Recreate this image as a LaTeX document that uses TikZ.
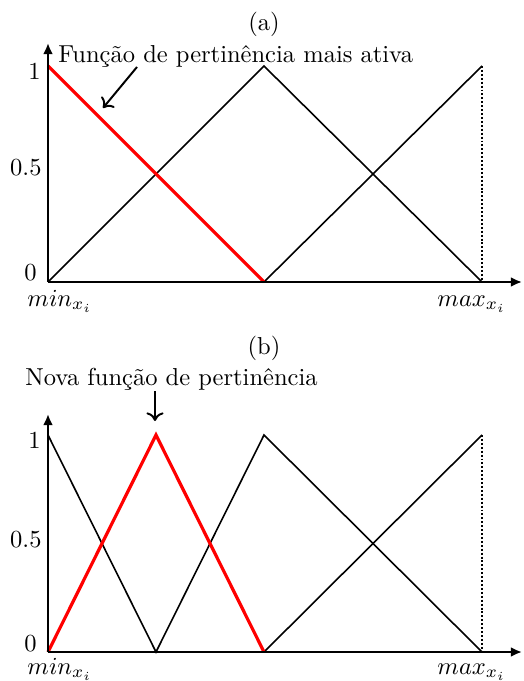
\documentclass[tikz,border=0pt]{standalone}
\usepackage{tikz}
\usetikzlibrary{arrows.meta}

\begin{document}
\begin{tikzpicture}[x=0.408pt, y=-0.408pt, >=Latex,
  axis/.style={line width=1.2pt, -{Latex[length=4.5pt, width=4pt]}},
  mf/.style={line width=0.65pt},
  active/.style={red, line width=1.3pt},
  limit/.style={line width=1pt, dash pattern=on 0.8pt off 0.8pt},
  pointer/.style={line width=0.8pt, -{To[length=3.5pt, width=7pt]}},
  tick/.style={inner sep=0pt}]
  \useasboundingbox (0,0) rectangle (523,681);

  % (a) most active membership function
  \node (capa) at (264,24) {(a)};
  \coordinate (oa) at (48,282);
  \coordinate (ya) at (48,43);
  \coordinate (xa) at (522,282);
  \coordinate (a1) at (48,66);
  \coordinate (a2) at (264,66);
  \coordinate (a3) at (264,282);
  \coordinate (a4) at (482,66);
  \coordinate (a5) at (482,282);
  \node[tick, anchor=north east] (onea) at (41,63) {1};
  \node[tick, anchor=east] (halfa) at (42,168) {0.5};
  \node[tick, anchor=base east] (zeroa) at (37,281) {0};
  \node[tick, anchor=base west] (mina) at (27,306) {$min_{x_i}$};
  \node[tick, anchor=base west] (maxa) at (437,306) {$max_{x_i}$};
  \node[tick, anchor=base west] (labela) at (58,63) {Função de pertinência mais ativa};
  \coordinate (pa1) at (137,67);
  \coordinate (pa2) at (103,108);

  \draw[mf] (oa) -- (a2) -- (a5);
  \draw[mf] (a3) -- (a4);
  \draw[limit] (a4) -- (a5);
  \draw[active] (a1) -- (a3);
  \draw[axis] (oa) -- (ya);
  \draw[axis] (oa) -- (xa);
  \draw[pointer] (pa1) -- (pa2);

  % (b) new membership function
  \node (capb) at (264,348) {(b)};
  \coordinate (ob) at (48,652);
  \coordinate (yb) at (48,414);
  \coordinate (xb) at (522,652);
  \coordinate (b1) at (48,435);
  \coordinate (b2) at (156,435);
  \coordinate (b3) at (156,652);
  \coordinate (b4) at (264,435);
  \coordinate (b5) at (264,652);
  \coordinate (b6) at (482,435);
  \coordinate (b7) at (482,652);
  \node[tick, anchor=north east] (oneb) at (41,432) {1};
  \node[tick, anchor=east] (halfb) at (42,540) {0.5};
  \node[tick, anchor=base east] (zerob) at (37,651) {0};
  \node[tick, anchor=base west] (minb) at (27,674) {$min_{x_i}$};
  \node[tick, anchor=base west] (maxb) at (437,674) {$max_{x_i}$};
  \node[tick, anchor=base west] (labelb) at (25,385) {Nova função de pertinência};
  \coordinate (pb1) at (155,391);
  \coordinate (pb2) at (155,421);

  \draw[mf] (b1) -- (b3) -- (b4) -- (b7);
  \draw[mf] (b5) -- (b6);
  \draw[limit] (b6) -- (b7);
  \draw[active] (ob) -- (b2) -- (b5);
  \draw[axis] (ob) -- (yb);
  \draw[axis] (ob) -- (xb);
  \draw[pointer] (pb1) -- (pb2);
\end{tikzpicture}
\end{document}
